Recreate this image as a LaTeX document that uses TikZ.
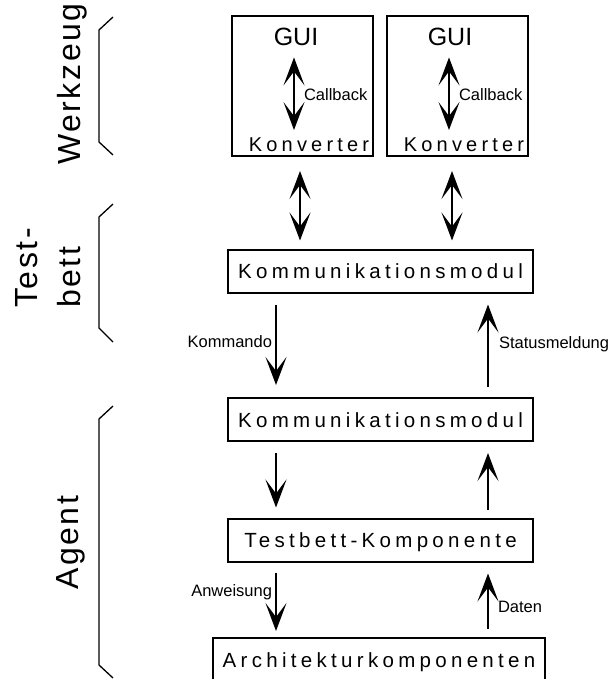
\documentclass[tikz,border=0pt]{standalone}
\usepackage{fontspec}
\setmainfont{Liberation Sans}
\newfontfamily\boxface[LetterSpace=21]{Liberation Sans}
\newfontfamily\sideface[LetterSpace=8]{Liberation Sans}
\usetikzlibrary{arrows.meta}
\begin{document}
\begin{tikzpicture}[x=1pt,y=-1pt,
  module/.style={draw, line width=2pt, inner sep=0pt, minimum width=305pt,
    minimum height=43pt, font=\boxface\fontsize{20.5}{24}\selectfont,
    text height=15pt, text depth=0pt},
  toolbox/.style={draw, line width=2pt, minimum width=141pt,
    minimum height=140pt, inner sep=0pt},
  tooltext/.style={inner sep=0pt, anchor=base},
  head/.style={},
  flow/.style={line width=2pt, -{Stealth[length=28pt,width=21pt,inset=14pt]}},
  flowboth/.style={line width=2pt,
    {Stealth[length=28pt,width=21pt,inset=14pt]}-{Stealth[length=28pt,width=21pt,inset=14pt]}},
  small/.style={font=\fontsize{16.5}{20}\selectfont, inner sep=0pt},
  side/.style={font=\sideface\fontsize{32}{38}\selectfont, rotate=90,
    anchor=base west, inner sep=0pt},
  brace/.style={line width=1.3pt}
]
\useasboundingbox (0,0) rectangle (612,679);
\clip (0,0) rectangle (612,679);

% columns of the vertical connectors
\coordinate (xl) at (276,0);
\coordinate (xr) at (488,0);
\coordinate (dx1) at (300,0);
\coordinate (dx2) at (452,0);
\coordinate (cb1) at (294,0);
\coordinate (cb2) at (449,0);

% tool windows
\node[toolbox] (tool1) at (302.5,86) {};
\node[toolbox] (tool2) at (457,86) {};
\node[tooltext, font=\fontsize{25}{30}\selectfont] (gui1) at (296,46) {GUI};
\node[tooltext, font=\fontsize{25}{30}\selectfont] (gui2) at (450,46) {GUI};
\node[tooltext, font=\boxface\fontsize{20}{24}\selectfont] (konv1) at (309,152) {Konverter};
\node[tooltext, font=\boxface\fontsize{20}{24}\selectfont] (konv2) at (464,152) {Konverter};

\draw[flowboth, shorten <=11pt, shorten >=8pt] (gui1.south -| cb1) --
  node[small, pos=0.589, anchor=base west, xshift=9pt] {Callback} (konv1.north -| cb1);
\draw[flowboth, shorten <=11pt, shorten >=8pt] (gui2.south -| cb2) --
  node[small, pos=0.589, anchor=base west, xshift=9pt] {Callback} (konv2.north -| cb2);

% modules
\node[module] (kom1) at (380.5,271) {Kommunikationsmodul};
\node[module] (kom2) at (380.5,419.5) {Kommunikationsmodul};
\node[module] (tbk) at (380.5,540) {Testbett-Komponente};
\node[module, minimum width=332pt] (arch) at (379,659.5) {Architekturkomponenten};

% tool <-> testbed
\draw[flowboth, shorten <=14pt, shorten >=8pt] (tool1.south -| dx1) -- (kom1.north -| dx1);
\draw[flowboth, shorten <=14pt, shorten >=8pt] (tool2.south -| dx2) -- (kom1.north -| dx2);

% testbed <-> agent
\draw[flow, shorten <=11pt, shorten >=12pt] (kom1.south -| xl) --
  node[small, pos=0.519, anchor=base east, xshift=-3pt] {Kommando} (kom2.north -| xl);
\draw[flow, shorten <=10pt, shorten >=11pt] (kom2.north -| xr) --
  node[small, pos=0.472, anchor=base west, xshift=10pt] {Statusmeldung} (kom1.south -| xr);

% inside the agent
\draw[flow, shorten <=11pt, shorten >=10pt] (kom2.south -| xl) -- (tbk.north -| xl);
\draw[flow, shorten <=8pt, shorten >=11pt] (tbk.north -| xr) -- (kom2.south -| xr);
\draw[flow, shorten <=10pt, shorten >=6pt] (tbk.south -| xl) --
  node[small, pos=0.46, anchor=base east, xshift=-3pt] {Anweisung} (arch.north -| xl);
\draw[flow, shorten <=8pt, shorten >=11pt] (arch.north -| xr) --
  node[small, pos=0.33, anchor=base west, xshift=9pt] {Daten} (tbk.south -| xr);

% grouping brackets
\draw[brace] (113,17) -- (99,30) -- (99,142) -- (113,155);
\draw[brace] (113,204) -- (99,217) -- (99,328) -- (113,342);
\draw[brace] (113,406) -- (99,419) -- (99,665) -- (113,678);

\node[side] (werkzeug) at (80,165) {Werkzeug};
\node[side] (test) at (37,308) {Test-};
\node[side] (bett) at (80,308) {bett};
\node[side] (agent) at (78,590) {Agent};
\end{tikzpicture}
\end{document}
